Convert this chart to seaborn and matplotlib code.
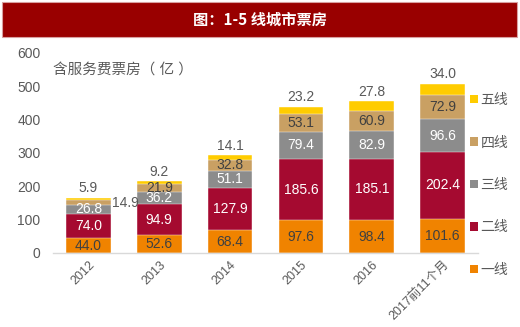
import matplotlib
matplotlib.use("Agg")
import matplotlib.pyplot as plt
import seaborn as sns
import numpy as np
import pandas as pd
from matplotlib.patches import Rectangle, Patch

sns.set_theme(style="white")
plt.rcParams['font.family'] = ['Liberation Sans', 'Noto Sans CJK SC', 'DejaVu Sans']

years = ["2012", "2013", "2014", "2015", "2016", "2017前11个月"]
tier_names = ["一线", "二线", "三线", "四线", "五线"]
tier1 = [44.0, 52.6, 68.4, 97.6, 98.4, 101.6]
tier2 = [74.0, 94.9, 127.9, 185.6, 185.1, 202.4]
tier3 = [26.8, 36.2, 51.1, 79.4, 82.9, 96.6]
tier4 = [14.9, 21.9, 32.8, 53.1, 60.9, 72.9]
tier5 = [5.9, 9.2, 14.1, 23.2, 27.8, 34.0]
colors = ["#F08300", "#A50A30", "#8C8C8C", "#C9A063", "#FFCC00"]
label_colors = ["#404040", "white", "white", "#404040", "#595959"]

series = [tier1, tier2, tier3, tier4, tier5]
cum = np.cumsum(np.array(series), axis=0)

fig = plt.figure(figsize=(5.2, 3.27), dpi=100)
fig.patches.append(Rectangle((2/520, 1-37/327), 515/520, 35/327, transform=fig.transFigure,
                             facecolor="#990000", edgecolor="#D8A0A0", linewidth=0.8, zorder=0))
fig.text(0.5, 1-20/327, "图：1-5 线城市票房", color="white", fontsize=11, fontweight="bold",
         ha="center", va="center", family=['Noto Sans CJK SC'])

ax = fig.add_axes([53/520, 1-253/327, 425/520, 200/327])

for i in range(4, -1, -1):
    df = pd.DataFrame({"year": years, "v": cum[i]})
    sns.barplot(data=df, x="year", y="v", color=colors[i], width=0.63, ax=ax,
                saturation=1, edgecolor="white", linewidth=0.3)

for i in range(5):
    for j, y in enumerate(years):
        val = series[i][j]
        if i == 4:
            ax.text(j, cum[i][j] + 7, f"{val:.1f}", ha="center", va="bottom",
                    color="#595959", fontsize=10)
        elif i == 3 and j == 0:
            ax.text(j + 0.33, cum[i][j] - 10, f"{val:.1f}", ha="left", va="center",
                    color="#595959", fontsize=10)
        else:
            ax.text(j, cum[i][j] - val / 2, f"{val:.1f}", ha="center", va="center",
                    color=label_colors[i], fontsize=10)

ax.set_ylim(0, 600)
ax.set_xlim(-0.5, 5.5)
ax.set_yticks([0, 100, 200, 300, 400, 500, 600])
ax.tick_params(axis="y", length=0, pad=9, labelsize=10, labelcolor="#595959")
ax.tick_params(axis="x", length=0, pad=4, labelsize=9, labelcolor="#595959")
for lab in ax.get_xticklabels():
    lab.set_rotation(45)
    lab.set_ha("right")
    lab.set_rotation_mode("anchor")
ax.set_xlabel("")
ax.set_ylabel("")
for s in ["top", "right", "left"]:
    ax.spines[s].set_visible(False)
ax.spines["bottom"].set_color("#D9D9D9")
ax.spines["bottom"].set_linewidth(1)

ax.text(0.0, 0.91, "含服务费票房（ 亿 ）", transform=ax.transAxes, fontsize=10.5,
        color="#595959", ha="left", va="center")

handles = [Patch(facecolor=colors[i], edgecolor="none") for i in range(4, -1, -1)]
labels = [tier_names[i] for i in range(4, -1, -1)]
fig.legend(handles, labels, loc="upper left", bbox_to_anchor=(463/520, 1-86/327),
           frameon=False, handlelength=0.6, handleheight=0.6, handletextpad=0.15,
           labelspacing=2.05, fontsize=10, labelcolor="#595959", borderpad=0)

fig.savefig("out.png", dpi=100)
